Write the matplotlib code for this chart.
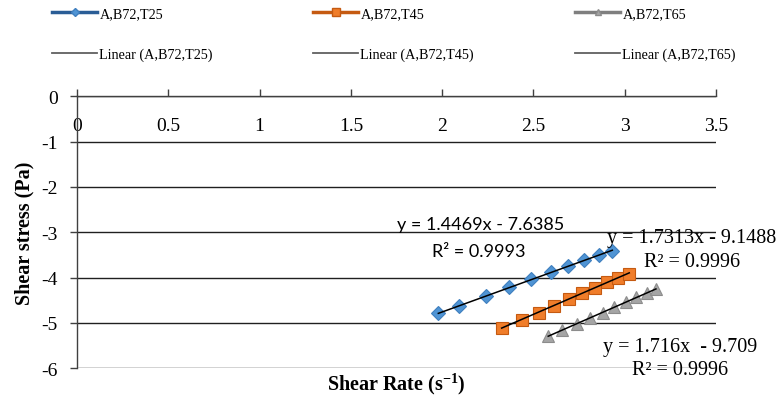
import numpy as np
import matplotlib
matplotlib.use("Agg")
import matplotlib.pyplot as plt
from matplotlib.lines import Line2D

plt.rcParams['axes.unicode_minus'] = False
plt.rcParams['mathtext.fontset'] = 'custom'
plt.rcParams['mathtext.rm'] = 'Liberation Serif'
plt.rcParams['mathtext.bf'] = 'Liberation Serif:bold'
SERIF = ['Liberation Serif', 'DejaVu Serif']
SANS = ['Lato', 'DejaVu Sans']

# ---- data ----
x_t25 = [1.979, 2.094, 2.240, 2.368, 2.485, 2.596, 2.691, 2.777, 2.859, 2.932]
y_t25 = [-4.79, -4.63, -4.41, -4.21, -4.04, -3.88, -3.75, -3.62, -3.50, -3.41]
x_t45 = [2.326, 2.435, 2.530, 2.614, 2.694, 2.767, 2.837, 2.901, 2.964, 3.025]
y_t45 = [-5.10, -4.93, -4.77, -4.62, -4.47, -4.34, -4.22, -4.09, -4.00, -3.91]
x_t65 = [2.581, 2.658, 2.736, 2.809, 2.879, 2.943, 3.006, 3.061, 3.120, 3.171]
y_t65 = [-5.29, -5.16, -5.02, -4.89, -4.77, -4.65, -4.54, -4.43, -4.34, -4.26]

series_names = ['A,B72,T25', 'A,B72,T45', 'A,B72,T65']
trend_names = ['Linear (A,B72,T25)', 'Linear (A,B72,T45)', 'Linear (A,B72,T65)']
eq_texts = ['y = 1.4469x - 7.6385', 'y = 1.7313x - 9.1488', 'y = 1.716x  - 9.709']
r2_texts = ['R² = 0.9993', 'R² = 0.9996', 'R² = 0.9996']
x_ticks = [0, 0.5, 1, 1.5, 2, 2.5, 3, 3.5]
x_ticklabels = ['0', '0.5', '1', '1.5', '2', '2.5', '3', '3.5']
y_ticks = [0, -1, -2, -3, -4, -5, -6]

fig = plt.figure(figsize=(7.8, 4.02), dpi=100)
ax = fig.add_axes([77/780, 1-369.3/402, (716-77)/780, (369.3-97.3)/402])

styles = [
    dict(marker='D', ms=7.2, mfc='#4f94d4', mec='#3f7fbf', line='#2a5d96', lms=4),
    dict(marker='s', ms=8.5, mfc='#f07d2a', mec='#c55a11', line='#c55a11', lms=6),
    dict(marker='^', ms=8.5, mfc='#a5a5a5', mec='#8c8c8c', line='#7f7f7f', lms=5),
]
data = [(x_t25, y_t25), (x_t45, y_t45), (x_t65, y_t65)]
for (xs, ys), st in zip(data, styles):
    xs = np.array(xs); ys = np.array(ys)
    ax.plot(xs, ys, linestyle='none', marker=st['marker'], ms=st['ms'],
            mfc=st['mfc'], mec=st['mec'], mew=0.8, zorder=3)
    k, b = np.polyfit(xs, ys, 1)
    xx = np.array([xs.min(), xs.max()])
    ax.plot(xx, k*xx + b, color='black', lw=1.1, zorder=4)

ax.set_xlim(0, 3.5)
ax.set_ylim(-6, 0)
ax.set_xticks(x_ticks)
ax.set_xticklabels(x_ticklabels)
ax.set_yticks(y_ticks)
ax.set_yticklabels([str(v) for v in y_ticks])
for s in ['right', 'bottom']:
    ax.spines[s].set_visible(False)
for s in ['top', 'left']:
    ax.spines[s].set_color('#404040')
    ax.spines[s].set_linewidth(1.0)
ax.xaxis.set_ticks_position('top')
ax.tick_params(axis='x', direction='out', length=5, width=1, color='#404040',
               top=True, bottom=False, labeltop=True, labelbottom=False, pad=-32)
ax.tick_params(axis='y', direction='out', length=5, width=1, color='#404040', pad=9)
for lab in ax.get_xticklabels() + ax.get_yticklabels():
    lab.set_fontfamily(SERIF)
    lab.set_fontsize(14)
ax.yaxis.grid(True, color='#202020', lw=1.0)
ax.set_axisbelow(True)

ax.set_ylabel('Shear stress (Pa)', fontfamily=SERIF, fontsize=14.5,
              fontweight='bold', labelpad=5)
ax.xaxis.set_label_position('bottom')
ax.set_xlabel(r'Shear Rate (s$^{\mathbf{-1}}$)', fontfamily=SERIF, fontsize=14.5,
              fontweight='bold', labelpad=1)

# trendline equations
def px(xp, yp):
    return ((xp - 77) / 182.6, -(yp - 97.3) / 45.3)

ax.text(*px(480.5, 225), eq_texts[0], fontfamily=SANS, fontsize=13, ha='center', va='center')
ax.text(*px(479, 252), r2_texts[0], fontfamily=SANS, fontsize=13, ha='center', va='center')
ax.text(*px(692, 238), eq_texts[1], fontfamily=SERIF, fontsize=14.5, ha='center', va='center')
ax.text(*px(692.5, 262), r2_texts[1], fontfamily=SERIF, fontsize=14.5, ha='center', va='center')
ax.text(*px(680, 347), eq_texts[2], fontfamily=SERIF, fontsize=14.5, ha='center', va='center')
ax.text(*px(680, 370), r2_texts[2], fontfamily=SERIF, fontsize=14.5, ha='center', va='center')

# legend: three columns, two rows each
col_x = [52, 313, 575]
for i, st in enumerate(styles):
    h1 = Line2D([], [], color=st['line'], lw=2.5, marker=st['marker'],
                ms=st['lms'], mfc=st['mfc'], mec=st['mec'])
    h2 = Line2D([], [], color='#606060', lw=1.3)
    leg = fig.legend([h1, h2], [series_names[i], trend_names[i]], loc='upper left',
                     bbox_to_anchor=(col_x[i]/780, 1 - 8/402), frameon=False,
                     prop={'family': SERIF, 'size': 10.2}, borderpad=0,
                     borderaxespad=0, handlelength=3.2, handletextpad=0.15,
                     labelspacing=1.95)

fig.savefig('out.png', dpi=100)
